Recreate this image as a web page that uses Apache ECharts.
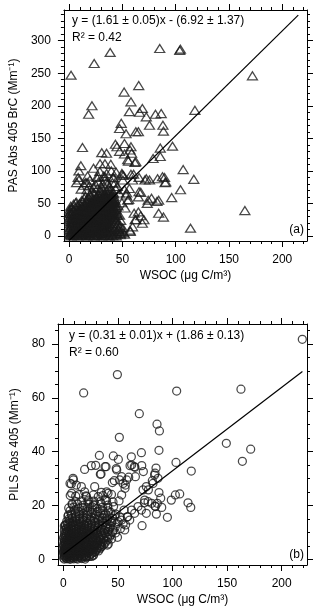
<!DOCTYPE html>
<html lang="en">
  <head>
    <meta charset="UTF-8" />
    <title>WSOC vs BrC absorption</title>
    <style>
      html, body { margin: 0; padding: 0; background: #fff; }
      #main { width: 320px; height: 609px; }
    </style>
  </head>
  <body>
    <div id="main"></div>
    <script src="https://cdn.jsdelivr.net/npm/echarts@6/dist/echarts.min.js"></script>
    <script>
      // tick values
      const xMajor = [0, 50, 100, 150, 200];
      const xMinor = [0, 10, 20, 30, 40, 50, 60, 70, 80, 90, 100, 110, 120, 130, 140, 150, 160, 170, 180, 190, 200, 210, 220];
      const yMajorA = [0, 50, 100, 150, 200, 250, 300];
      const yMinorA = [0, 10, 20, 30, 40, 50, 60, 70, 80, 90, 100, 110, 120, 130, 140, 150, 160, 170, 180, 190, 200, 210, 220, 230, 240, 250, 260, 270, 280, 290, 300, 310, 320, 330, 340];
      const yMajorB = [0, 20, 40, 60, 80];
      const yMinorB = [0, 5, 10, 15, 20, 25, 30, 35, 40, 45, 50, 55, 60, 65, 70, 75, 80, 85];

      // fits: [slope, intercept, xStart, xEnd]
      const fitA = [1.61, -6.92, 0, 215];
      const fitB = [0.31, 1.86, 0, 219];

      // panel (a): PAS Abs 405 BrC vs WSOC, sparse points
      const pasOuter = [
        [1.8,247],[23.5,265],[38.5,282],[85,288],[104.4,287],[103.8,285],[172,246],
        [65.3,231],[51.6,221],[58,206],[21.4,200],[18.3,187],[56.5,191],[66,190],[68.7,196],[72.4,183],[81,187],[86.4,188],[118,193],
        [48.9,173],[47.3,165],[75.4,170],[88,170],[88.5,161],[53.4,157],[62.6,160],[65,160],
        [12.5,136],[43.4,141],[44.9,137],[51.9,142],[58,137],[57.1,132],[47.3,130],[51.9,126],[30.6,128],[35.1,127],[58.6,127],
        [97,138],[85.5,135],[85.5,122],[78.8,119],[62.6,114],[54.9,117],
        [11,108],[22.9,104],[29,111],[33.6,111],[39.1,110],[61.7,113],[55.6,115],[107,102],[104.5,71],
        [9.2,100],[8.5,90],[9.2,86],[16.8,82],[26,90],[27.5,83],[33.6,91],[35.1,83],[41.2,89],[42.8,81],[49.8,94],[50.4,86],
        [58,95],[59.5,86],[65.6,90],[71.1,86],[75.4,86],[72.4,88],[83,88],[87.6,91],[89.5,90],[90,82],[90.7,83],[117,87],[15.3,82],[7,82],
        [11.3,72],[16.8,71],[22.9,75],[30.6,75],[38.2,70],[51.9,71],[53.4,63],[54.9,55],[56.5,73],[65.6,68],[65,60],[67.2,67],
        [74.2,55],[77.3,58],[84,55],[96.2,59],[82.4,53],[73.3,50],[18.9,77],
        [84,35],[88.5,29],[65,37],[67.2,31],[70.2,25],[62,25],[68.7,19.5],[47.3,7],[57.1,9],[57.4,7],[48.2,4],[164.9,39],[113.9,12],
        [6.1,51],[2.4,22],[1.2,35],[45.8,46],[47.3,32],[42.7,25],[39.7,14],[52.5,43],[61,35],[62.6,25],[59.5,14],[49.5,51],[55.9,56],
        [54,66],[45.2,76],[40.6,82],[36,80],[33.6,86],[27.5,91],[32.4,92],[41.5,90],[49.5,96],[51,93],[60.5,95],
        [46.5,9.8],[50.3,12.4],[47.9,16.5],[51.2,4.8],[44.1,22.6],[48.4,23.9],
        [19.5,86],[24.8,79],[29.6,70],[31.5,80],[37.8,76],[43.6,72],[46.9,66],[21.2,68],[26.4,73],[35.2,96],[44.1,98],[39.6,100],[28.8,99],[17.3,92],[13.8,78]
      ];

      // panel (a): dense core near the origin
      const pasCore = [
        [1.6,0.2],[4.3,0.4],[8.1,0.1],[12.2,0.3],[16.4,0.2],[19.1,0.5],[23.3,0.1],[26.1,0.4],[30.4,0.2],[33.2,0.3],[37.5,0.1],[40.8,0.4],[44.2,0.2],
        [0.5,2.1],[2,3.4],[3.5,1.2],[5,2.8],[7,1.6],[9,3.1],[11,0.9],[13,2.4],[15,1.7],[17.5,3.3],[20,1.1],[22,2.6],[24.5,0.8],[27,2.2],[29,3.6],[31.5,1.4],[34,2.9],[36,0.7],[39,2.3],[42,1.5],[45,3.2],[48,1.9],[52,2.7],
        [1.2,4.6],[3.9,5.1],[6.8,4.2],[9.7,5.3],[12.6,4.4],[15.5,5.2],[18.4,4.1],[21.3,4.9],[24.2,5.4],[27.1,4.3],[30,5],[32.9,4.5],[35.8,5.2],[38.7,4],
        [0.8,7.2],[2.6,6.1],[4.2,8.3],[6.1,6.6],[8.3,7.9],[10.4,6.3],[12.2,8.6],[14.7,7.1],[16.9,5.9],[19.3,8.2],[21.5,6.8],[23.8,7.7],[26.1,6.2],[28.4,8.4],[30.9,6.9],[33.2,7.5],[35.7,6.4],[38.3,8.1],[41,6.7],[44.5,7.4],[49,6.1],
        [0.4,9.8],[3.2,10.4],[6,9.5],[8.9,10.7],[11.8,9.9],[14.6,10.2],[17.5,9.6],[20.4,10.6],[23.3,9.7],[26.2,10.3],[29.1,9.4],[32,10.5],[34.9,9.9],
        [0.3,12.6],[1.9,13.8],[3.8,11.9],[5.6,13.2],[7.4,14.1],[9.8,12.3],[11.6,13.6],[13.9,12.1],[16.2,14.4],[18.5,12.8],[20.7,13.5],[23.1,11.8],[25.3,14.2],[27.9,12.9],[30.2,13.7],[32.6,12.2],[35.1,14],[37.8,12.7],[40.6,13.4],[43.2,11.6],[47,13.1],
        [2.3,15.8],[5.1,16.4],[8,15.5],[10.9,16.6],[13.8,15.7],[16.7,16.3],[19.6,15.4],[22.5,16.5],[25.4,15.9],[28.3,16.2],[31.2,15.6],[34.1,16.4],[37,15.8],
        [1.1,18.4],[3.1,19.6],[5.2,17.9],[7.1,20.1],[9.3,18.8],[11.2,19.9],[13.5,18.2],[15.8,20.4],[18.1,18.6],[20.4,19.3],[22.6,17.8],[25,20.2],[27.3,19.1],[29.7,18.3],[32.1,20.6],[34.6,19],[37.2,18.1],[39.9,20],[42.8,18.7],[46,19.5],
        [0.9,21.6],[3.8,22.3],[6.7,21.4],[9.6,22.5],[12.5,21.7],[15.4,22.2],[18.3,21.3],[21.2,22.4],[24.1,21.8],[27,22.1],[29.9,21.5],[32.8,22.6],[35.7,21.9],
        [0.6,24.8],[2.5,25.9],[4.6,24.2],[6.7,26.3],[8.8,25.1],[10.9,24.4],[13,26],[15.3,25.4],[17.6,24.1],[19.9,26.5],[22.2,25.2],[24.6,24.6],[27,26.2],[29.4,25],[31.8,24.3],[34.3,26.1],[36.9,25.5],[39.5,24.5],[42.1,26.4],
        [0.4,27.8],[2.9,28.6],[5.3,27.5],[7.8,28.9],[10.2,27.9],[12.7,28.4],[15.1,27.6],[17.6,28.8],[20.1,28.1],[22.6,27.4],[25.1,28.7],[27.6,28],[30.1,27.5],[32.6,28.6],[35.1,27.9],[37.7,28.3],[40.3,27.6],[43,28.8],
        [1.4,30.6],[3.6,31.8],[5.9,30.2],[8.1,32.1],[10.3,31],[12.6,30.4],[14.9,32.3],[17.2,31.2],[19.6,30.1],[22,31.9],[24.4,30.7],[26.8,32.4],[29.2,31.3],[31.7,30.3],[34.2,32],[36.8,31.1],[39.4,30.5],[42,32.2],[44.8,31.4],
        [0.2,33.8],[2.5,34.5],[4.8,33.6],[7.2,34.9],[9.6,33.9],[12,34.3],[14.4,33.5],[16.9,34.7],[19.4,34],[21.9,33.4],[24.4,34.6],[26.9,33.8],[29.4,34.2],[31.9,33.5],[34.4,34.8],[37,34],[39.6,33.6],[42.3,34.5],[45.1,33.9],
        [0.9,36.8],[3.3,37.9],[6.4,36.3],[9,38.1],[11.4,37],[13.7,36.5],[16.1,38.3],[18.6,37.2],[21.1,36.4],[23.6,38],[26.1,37.1],[28.6,36.2],[31.1,38.4],[33.6,37.3],[36.2,36.6],[38.8,38.2],[41.4,37.4],[44.1,36.7],
        [0.5,40.2],[4.2,39.6],[7.6,40.7],[10.9,39.8],[13.5,40.4],[16,39.5],[18.5,40.8],[21,40],[23.5,39.4],[26,40.6],[28.5,39.9],[31,40.3],[33.5,39.5],[36,40.7],[38.6,40],[41.2,39.4],[43.8,40.5],
        [2.2,42.6],[5.4,43.8],[10.1,42.2],[13.2,44],[15.6,43.1],[18,42.4],[20.6,44.2],[23.2,43.3],[25.7,42.5],[28.3,44.1],[30.8,43],[33.3,42.3],[35.9,44.3],[38.5,43.2],[41.2,42.7],[43.9,44],
        [1.5,45.8],[7.3,46.4],[11.9,45.6],[15.1,46.9],[17.6,45.9],[20.1,46.5],[22.7,45.5],[25.3,46.7],[27.9,46],[30.5,45.4],[33.1,46.6],[35.7,45.8],[38.3,46.3],[40.9,45.6],[43.6,46.8],
        [4.1,48.7],[9.6,49.5],[14.5,48.2],[17.3,50.1],[19.8,49],[22.4,48.4],[25,50.3],[27.6,49.2],[30.2,48.5],[32.8,50],[35.4,49.1],[38,48.3],[40.7,50.2],[43.3,49.4],
        [6.8,51.7],[13.1,52.4],[16.2,51.5],[19,52.8],[21.6,51.9],[24.2,52.5],[26.8,51.4],[29.4,52.6],[32,51.8],[34.6,52.3],[37.2,51.5],[39.8,52.7],[42.4,51.9],
        [11.8,54.6],[16.5,55.8],[21.7,54.2],[24.3,56.1],[27,55],[29.6,54.4],[32.2,56.3],[34.9,55.2],[37.6,54.5],[40.2,56],[42.9,55.1],
        [14.2,57.6],[18.4,58.4],[22.9,57.4],[26,58.7],[28.6,57.9],[31.2,58.3],[33.8,57.5],[36.4,58.6],[39,57.8],[41.7,58.2],
        [15,60.5],[20.2,61.7],[25.5,60.2],[28.8,62],[31.4,61],[34,60.4],[36.7,62.2],[39.3,61.1],[42,60.6],
        [19.3,63.5],[24.1,64.4],[27.4,63.6],[30.6,64.7],[33.4,63.8],[36.1,64.3],[38.9,63.5],[41.7,64.6],
        [23,66.4],[29.9,67.6],[33.1,66.2],[35.8,68],[38.6,66.9],[41.1,67.4]
      ];

      // panel (b): PILS Abs 405 vs WSOC, sparse points
      const pilsOuter = [
        [218.9,81.7],[49.5,68.6],[18.6,61.8],[103.8,62.5],[162.7,63.2],[69.6,54.1],[85.8,50.2],[88,47.7],[51.3,45.3],[149.3,43.1],[171.6,40.9],
        [87.6,40.5],[71.5,39.6],[62.3,38.1],[33,38.6],[45.8,38.4],[50.4,37.1],[103.2,36],[164,36.4],[25.6,34.8],[29.6,34.9],[39.1,34.4],
        [19.5,33.4],[61.1,34.8],[65,34.4],[71.8,34.8],[84.9,33.9],[48.5,33.7],[117.2,32.8],
        [33.9,31.6],[8.9,30.1],[7.3,28],[11.9,27.6],[44.9,28.5],[56.8,27.6],[51.6,29.5],[54.7,28.2],[59.9,30.5],[66,30.7],
        [83.6,31.3],[86.7,30.1],[82.1,28.2],[76,27],[73,25.8],[102.6,23.9],[106.6,24.3],[98.9,22],[114.2,21],[116.7,19.3],[95.3,15.6],
        [89.2,22.7],[86.1,20.8],[84.3,19.6],[85.2,16.8],[74.5,22],[77.6,21.4],[68.4,19.6],[76,17.1],[65.3,17.1],[71.5,18.3],[72.1,12.5],
        [40.3,5.3],[34.8,24.9],[40.9,24.5],[19.5,25.1],[16.5,27],[21.1,23.3],[8,20.6],[1.8,12.8],[28.7,27],[55.6,18.3],[58.6,15.8],
        [56.2,10.9],[50.1,14],[60.8,14.6],
        [34.5,31.7],[38.2,34.4],[48.9,33.2],[62.6,35],[65.6,34.2],[46.7,29.2],[53.4,30.7],[58,29.5],[73.3,32.6],[84,32],[81.5,29.2],
        [77.9,25.8],[87.6,24.8],[74.2,21],[80.9,20.8],[84,19.8],[90.1,19.3],[9.2,29.5],[6.1,28.2],[7.6,24.5],[11.3,23.5],[4.6,16.5],
        [0.9,12.4],[22.9,22],[27.5,20.2],[32,23.3],[39.7,25.1],[38.2,22],[53.4,23.9],[56.5,26.4],[62.6,18.3],[58.9,15.8],[53.4,14.6],
        [57,12.8],[41.2,5.7],[21.1,1],[27.5,1.6],[44.2,7.6],[47.8,9.8],[52.3,11.4],[49.6,8.2],[54.8,13.2]
      ];

      // panel (b): dense core near the origin
      const pilsCore = [
        [0.8,0.1],[3.4,0.2],[6.3,0],[9.5,0.2],[13,0.1],[17,0.3],[20,0.1],
        [0.3,0.5],[1.5,0.9],[2.8,0.4],[4.2,0.8],[5.6,0.3],[7.1,0.7],[8.7,0.5],[10.4,0.9],[12.2,0.4],[14.1,0.8],[16.2,0.6],[18.5,1],[21,0.7],[24,1.1],[27.5,1.4],
        [1,1.2],[2.3,1.3],[3.9,1.1],[5.3,1.4],[6.9,1.2],[8.4,1.3],[10,1.1],[11.6,1.4],[13.3,1.2],[15.1,1.3],[17,1.1],[19,1.4],[21.2,1.2],[23.5,1.3],[26,1.1],
        [0.6,1.7],[2,2.1],[3.5,1.6],[5,2],[6.6,1.8],[8.2,2.2],[9.9,1.5],[11.7,1.9],[13.6,2.3],[15.6,1.7],[17.8,2.1],[20.1,1.8],[22.6,2.4],[25.3,2],[28.5,2.6],
        [0.3,2.4],[1.7,2.6],[3.2,2.3],[4.8,2.5],[6.3,2.4],[7.9,2.7],[9.6,2.3],[11.4,2.6],[13.2,2.4],[15.1,2.6],[17.1,2.3],[19.2,2.5],[21.4,2.4],[23.8,2.7],[26.4,2.4],[29.3,2.9],[32.2,3.1],
        [0.2,3],[1.4,3.3],[2.9,2.8],[4.4,3.2],[6,2.9],[7.6,3.4],[9.3,2.7],[11,3.1],[12.9,3.3],[14.9,2.8],[17,3.2],[19.3,2.9],[21.7,3.4],[24.3,3],[27.1,3.3],[30.2,3.5],[33.5,3.9],
        [0.6,3.6],[2.1,3.8],[3.6,3.5],[5.2,3.7],[6.8,3.6],[8.5,3.9],[10.2,3.5],[12,3.8],[13.9,3.6],[15.9,3.8],[18,3.5],[20.2,3.7],[22.5,3.6],[25,3.8],[27.7,3.7],[30.7,4.1],[33.9,4.4],
        [0.9,4.2],[2.4,4.5],[3.9,4.1],[5.5,4.4],[7.1,4],[8.8,4.6],[10.6,4.2],[12.4,4.5],[14.4,4.1],[16.4,4.4],[18.6,4],[20.9,4.6],[23.4,4.3],[26,4.1],[28.8,4.6],[31.8,4.4],[35.2,4.8],
        [0.2,4.9],[1.6,5.1],[3.1,4.8],[4.7,5],[6.3,4.9],[8,5.2],[9.8,4.8],[11.6,5.1],[13.5,4.9],[15.5,5.1],[17.6,4.8],[19.8,5],[22.1,4.9],[24.6,5.1],[27.3,5],[30.2,5.2],[33.3,5.1],[36.8,5.4],
        [0.4,5.5],[1.9,5.8],[3.4,5.4],[5,5.7],[6.7,5.5],[8.4,5.9],[10.2,5.3],[12,5.7],[14,5.6],[16,5.9],[18.2,5.4],[20.5,5.8],[22.9,5.5],[25.5,5.7],[28.3,5.3],[31.2,5.9],[34.4,5.6],[38.1,6],
        [0.7,6.3],[2.3,6.5],[3.9,6.2],[5.6,6.4],[7.3,6.3],[9.1,6.6],[10.9,6.2],[12.8,6.5],[14.8,6.3],[16.9,6.6],[19.1,6.2],[21.4,6.4],[23.9,6.3],[26.5,6.5],[29.3,6.2],[32.3,6.6],[35.6,6.4],[39.4,6.8],
        [1,7],[2.6,7.2],[4.3,6.8],[6,7.1],[7.8,6.9],[9.6,7.3],[11.5,6.8],[13.5,7.1],[15.6,7],[17.8,7.3],[20.1,6.8],[22.5,7.2],[25.1,6.9],[27.8,7.2],[30.7,7],[33.8,7.3],[37.1,7.1],[41,7.5],
        [0.3,7.7],[1.9,7.9],[3.6,7.6],[5.4,7.8],[7.2,7.7],[9.1,8],[11,7.6],[13,7.9],[15.1,7.7],[17.3,8],[19.6,7.6],[22,7.8],[24.6,7.7],[27.3,7.9],[30.2,7.6],[33.3,8],[36.7,7.8],[40.5,8.2],
        [0.6,8.4],[2.3,8.7],[4.1,8.3],[5.9,8.6],[7.8,8.4],[9.8,8.8],[11.8,8.3],[14,8.6],[16.2,8.5],[18.5,8.8],[21,8.2],[23.6,8.7],[26.3,8.4],[29.2,8.6],[32.3,8.3],[35.6,8.8],[39.2,8.5],[43.5,9],
        [1.1,9.2],[2.9,9.4],[4.8,9.1],[6.7,9.3],[8.7,9.2],[10.8,9.5],[12.9,9.1],[15.2,9.4],[17.5,9.2],[20,9.5],[22.6,9.1],[25.3,9.3],[28.2,9.2],[31.3,9.4],[34.5,9.1],[38,9.5],[41.9,9.3],
        [1.5,9.9],[3.4,10.3],[5.4,9.8],[7.5,10.2],[9.6,9.9],[11.8,10.3],[14.1,9.7],[16.5,10.1],[19,10],[21.6,10.4],[24.3,9.8],[27.2,10.2],[30.2,9.9],[33.4,10.3],[36.9,10],[40.7,10.4],[45,10.1],
        [0.9,10.8],[2.9,11],[5,10.7],[7.1,11],[9.3,10.8],[11.6,11.1],[14,10.6],[16.5,10.9],[19.1,10.8],[21.8,11.1],[24.6,10.7],[27.6,10.9],[30.7,10.8],[34,11.1],[37.6,10.8],[41.5,11.1],[45.8,10.9],
        [2.5,11.5],[4.8,11.8],[7.1,11.4],[9.4,11.7],[11.8,11.5],[14.3,11.9],[16.9,11.3],[19.6,11.7],[22.4,11.6],[25.3,11.9],[28.4,11.4],[31.6,11.8],[35,11.5],[38.7,11.9],[42.6,11.6],[47.5,12],
        [1.8,12.5],[4.2,12.6],[6.6,12.3],[9,12.6],[11.5,12.4],[14.1,12.7],[16.8,12.2],[19.6,12.6],[22.5,12.4],[25.5,12.7],[28.7,12.3],[32,12.6],[35.5,12.4],[39.3,12.7],[43.2,12.4],
        [3.4,13.2],[6,13.5],[8.6,13.1],[11.2,13.4],[13.9,13.2],[16.7,13.6],[19.6,13],[22.6,13.4],[25.8,13.3],[29.1,13.6],[32.6,13.1],[36.3,13.5],[40.2,13.2],[44.4,13.6],[49,13.3],
        [3.1,14.1],[5.9,14.4],[8.8,14],[11.8,14.3],[14.9,14.1],[18.1,14.5],[21.4,13.9],[24.8,14.3],[28.3,14.2],[32,14.5],[35.9,14],[40,14.4],[44.5,14.2],
        [5.1,15],[8.2,15.3],[11.4,14.9],[14.6,15.2],[17.9,15],[21.3,15.4],[24.8,14.8],[28.4,15.2],[32.2,15.1],[36.2,15.4],[40.4,14.9],[45,15.3],[52,15.6],
        [4.2,16],[7.6,16.2],[11,15.8],[14.4,16.1],[18,15.9],[21.7,16.3],[25.5,15.7],[29.4,16.1],[33.4,16],[37.6,16.3],[42.1,15.8],[47,16.2],
        [7.3,16.9],[10.9,17.2],[14.5,16.8],[18.2,17.1],[22,16.9],[25.9,17.3],[29.9,16.7],[34.1,17.2],[38.6,17],[43.5,17.4],[48,16.8],
        [6.1,18],[10,18.2],[14,17.8],[18,18.1],[22.3,17.9],[26.7,18.3],[31.2,17.7],[36,18.2],[41,18],
        [4.9,19.1],[9.5,19.4],[13.6,19],[17.8,19.3],[22.1,19.1],[26.5,19.5],[31,18.9],[35.8,19.3],[40.8,19.2],[46,19.6],
        [8.2,20.3],[13.1,20.5],[18.4,20.1],[23.7,20.4],[29.2,20.2],[34.8,20.6],[40.7,20.1],
        [11.6,21.4],[16.8,21.7],[22.4,21.3],[28,21.6],[33.7,21.4],[39.6,21.8],[45.5,21.3],[51,21.7],
        [6.3,23.7],[14.2,24],[20.8,23.6],[27.5,23.9],[36.2,23.7],[44.1,24.1]
      ];

      const FONT = '"Liberation Sans", Arial, sans-serif';
      const INK = "#000";

      var myChart = echarts.init(document.getElementById("main"), null, {
        width: 320,
        height: 609,
      });

      // four axes per side pair: labelled major, minor, mirrored major, mirrored minor
      function makeAxes(dim, grid, min, max, major, minor, name, gap) {
        var sides = dim === "x" ? ["bottom", "top"] : ["left", "right"];
        var list = [];
        sides.forEach(function (side, s) {
          [major, minor].forEach(function (vals, m) {
            list.push({
              type: "value",
              gridIndex: grid,
              position: side,
              min: min,
              max: max,
              name: s === 0 && m === 0 ? name : "",
              nameLocation: "middle",
              nameGap: gap,
              nameTextStyle: { color: INK, fontSize: 12, fontFamily: FONT },
              axisLine: { show: m === 0, onZero: false, lineStyle: { color: INK, width: 1 } },
              axisTick: {
                show: true,
                inside: false,
                length: m === 0 ? 6 : 3,
                customValues: vals,
                lineStyle: { color: INK, width: 1 },
              },
              axisLabel: {
                show: s === 0 && m === 0,
                customValues: vals,
                color: INK,
                fontSize: 12,
                fontFamily: FONT,
                margin: 13,
              },
              splitLine: { show: false },
              minorTick: { show: false },
            });
          });
        });
        return list;
      }

      function fitLine(f) {
        return [
          [f[2], f[0] * f[2] + f[1]],
          [f[3], f[0] * f[3] + f[1]],
        ];
      }

      var markerStyle = { color: "rgba(0,0,0,0)", borderColor: "#1a1a1a", borderWidth: 1.25 };

      option = {
        animation: false,
        backgroundColor: "#fff",
        grid: [
          { left: 58, top: 10, width: 249, height: 231 },
          { left: 58, top: 324, width: 249, height: 241 },
        ],
        xAxis: makeAxes("x", 0, -4.9, 223.2, xMajor, xMinor, "WSOC (μg C/m³)", 29).concat(
          makeAxes("x", 1, -4.9, 223.2, xMajor, xMinor, "WSOC (μg C/m³)", 29)
        ),
        yAxis: makeAxes("y", 0, -7.7, 347.1, yMajorA, yMinorA, "PAS Abs 405 BrC (Mm⁻¹)", 37).concat(
          makeAxes("y", 1, -2.1, 87.4, yMajorB, yMinorB, "PILS Abs 405 (Mm⁻¹)", 30)
        ),
        graphic: [
          { type: "text", left: 72, top: 15, style: { text: "y = (1.61 ± 0.05)x - (6.92 ± 1.37)", font: "12px " + FONT, fill: INK } },
          { type: "text", left: 72, top: 32, style: { text: "R² = 0.42", font: "12px " + FONT, fill: INK } },
          { type: "text", right: 16, top: 224, style: { text: "(a)", font: "12px " + FONT, fill: INK } },
          { type: "text", left: 69, top: 330, style: { text: "y = (0.31 ± 0.01)x + (1.86 ± 0.13)", font: "12px " + FONT, fill: INK } },
          { type: "text", left: 69, top: 347, style: { text: "R² = 0.60", font: "12px " + FONT, fill: INK } },
          { type: "text", right: 16, top: 549, style: { text: "(b)", font: "12px " + FONT, fill: INK } },
        ],
        series: [
          {
            type: "scatter",
            xAxisIndex: 0,
            yAxisIndex: 0,
            symbol: "triangle",
            symbolSize: [10, 8],
            itemStyle: markerStyle,
            emphasis: { disabled: true },
            data: pasOuter.concat(pasCore),
          },
          {
            type: "line",
            xAxisIndex: 0,
            yAxisIndex: 0,
            symbol: "none",
            lineStyle: { color: INK, width: 1.2 },
            data: fitLine(fitA),
          },
          {
            type: "scatter",
            xAxisIndex: 4,
            yAxisIndex: 4,
            symbol: "circle",
            symbolSize: 8,
            itemStyle: markerStyle,
            emphasis: { disabled: true },
            data: pilsOuter.concat(pilsCore),
          },
          {
            type: "line",
            xAxisIndex: 4,
            yAxisIndex: 4,
            symbol: "none",
            lineStyle: { color: INK, width: 1.2 },
            data: fitLine(fitB),
          },
        ],
      };

      myChart.setOption(option);
    </script>
  </body>
</html>
